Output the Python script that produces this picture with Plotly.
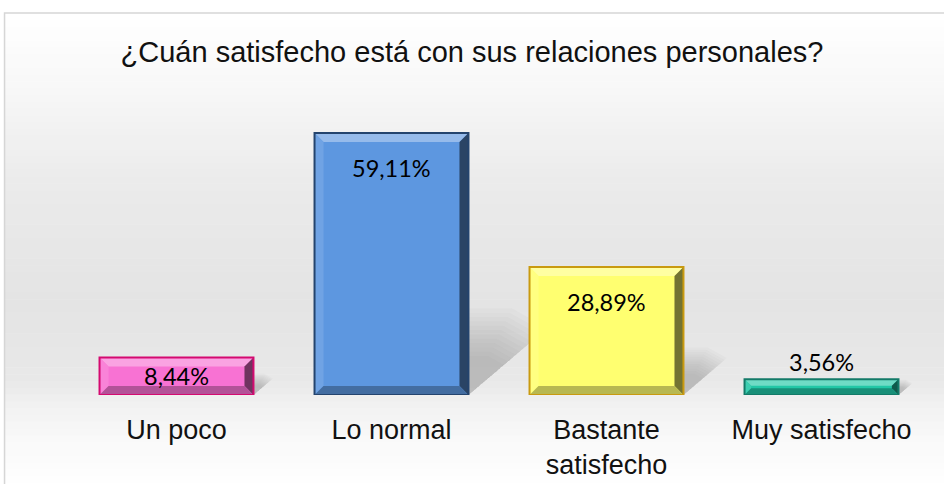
import plotly.graph_objects as go

categories = ["Un poco", "Lo normal", "Bastante<br>satisfecho", "Muy satisfecho"]
values = [8.44, 59.11, 28.89, 3.56]
labels = ["8,44%", "59,11%", "28,89%", "3,56%"]
title = "¿Cuán satisfecho está con sus relaciones personales?"

fill_colors = ["#f872d3", "#5d97e0", "#ffff70", "#22c7a6"]
edge_colors = ["#d40a70", "#24446e", "#c99a10", "#137a68"]

W, H = 944, 484
ml, mr, mt, mb = 68.5, W - 929, 129, 484 - 395
BAR_W = 0.716
YMAX = 60

def hex2rgb(h):
    h = h.lstrip("#")
    return tuple(int(h[i:i + 2], 16) for i in (0, 2, 4))

def mix(h, other, t):
    r = hex2rgb(h)
    return "rgb(%d,%d,%d)" % tuple(round(a + (b - a) * t) for a, b in zip(r, other))

plot_w = W - ml - mr
plot_h = H - mt - mb
px_per_cat = plot_w / len(categories)
px_per_unit = plot_h / YMAX

def px_to_paper_y(py):
    return (H - mb - py) / plot_h
def px_to_paper_x(px):
    return (px - ml) / plot_w

fig = go.Figure()

# background gradient bands (chart area)
stops = [(13, 255), (90, 247), (180, 235), (300, 228), (380, 232), (400, 240), (440, 249), (484, 254)]
def shade(py):
    for (y0, c0), (y1, c1) in zip(stops, stops[1:]):
        if y0 <= py <= y1:
            return c0 + (c1 - c0) * (py - y0) / (y1 - y0)
    return 255
n = 70
top_px, bot_px = 13, 490
for k in range(n):
    y0 = top_px + (bot_px - top_px) * k / n
    y1 = top_px + (bot_px - top_px) * (k + 1) / n
    g = int(round(shade((y0 + y1) / 2)))
    fig.add_shape(type="rect", xref="paper", yref="paper", layer="below",
                  x0=px_to_paper_x(4), x1=px_to_paper_x(950),
                  y0=px_to_paper_y(y1 + 0.5), y1=px_to_paper_y(y0),
                  fillcolor=f"rgb({g},{g},{g})", line=dict(width=0))
fig.add_shape(type="rect", xref="paper", yref="paper", layer="below",
              x0=px_to_paper_x(4), x1=px_to_paper_x(960),
              y0=px_to_paper_y(495), y1=px_to_paper_y(13),
              fillcolor="rgba(0,0,0,0)", line=dict(color="#d6d6d6", width=1.5))

# soft cast shadows behind bars
for i, v in enumerate(values):
    xr = i + BAR_W / 2
    h_px = v * px_per_unit
    s_px = 0.22 * h_px + 8
    for k in range(12):
        scale = 1.2 - k * 0.06
        s = s_px * scale
        sx = s / px_per_cat
        sy = s / px_per_unit
        path = (f"M {xr},0 L {xr + sx},{sy * 0.85} L {xr + sx * 0.55},{sy * 1.1} "
                f"L {xr},{sy * 1.1} Z")
        fig.add_shape(type="path", xref="x", yref="y", path=path,
                      fillcolor="rgba(110,110,110,0.035)", line=dict(width=0), layer="below")

fig.add_trace(go.Bar(
    x=categories, y=values,
    marker=dict(color=fill_colors, line=dict(width=0)),
    width=BAR_W, hoverinfo="skip",
))

# bevel effect for each bar
bevel_px = 9
for i, (v, fc, ec) in enumerate(zip(values, fill_colors, edge_colors)):
    xl, xr = i - BAR_W / 2, i + BAR_W / 2
    dx = bevel_px / px_per_cat
    dy = min(bevel_px / px_per_unit, v * 0.42)
    dxe = min(dx, dy * px_per_unit / px_per_cat)
    ixl, ixr, iyb, iyt = xl + dxe, xr - dxe, dy, v - dy
    faces = [
        (f"M {xl},{v} L {xr},{v} L {ixr},{iyt} L {ixl},{iyt} Z", mix(fc, (255, 255, 255), 0.35)),
        (f"M {xl},0 L {xl},{v} L {ixl},{iyt} L {ixl},{iyb} Z", mix(fc, (255, 255, 255), 0.12)),
        (f"M {xr},0 L {xr},{v} L {ixr},{iyt} L {ixr},{iyb} Z", mix(fc, (0, 0, 0), 0.55)),
        (f"M {xl},0 L {xr},0 L {ixr},{iyb} L {ixl},{iyb} Z", mix(fc, (0, 0, 0), 0.28)),
    ]
    for path, col in faces:
        fig.add_shape(type="path", xref="x", yref="y", path=path, fillcolor=col,
                      line=dict(width=0), layer="above")
    fig.add_shape(type="rect", xref="x", yref="y", x0=xl, x1=xr, y0=0, y1=v,
                  fillcolor="rgba(0,0,0,0)", line=dict(color=ec, width=2), layer="above")

# value labels
for c, v, t in zip(categories, values, labels):
    f = dict(family="Lato", size=23.5, color="#000")
    if v > 20:
        fig.add_annotation(x=c, y=v, text=t, showarrow=False, yanchor="top", yshift=-19, font=f)
    elif v > 6:
        fig.add_annotation(x=c, y=v / 2, text=t, showarrow=False, yanchor="middle", font=f)
    else:
        fig.add_annotation(x=c, y=v, text=t, showarrow=False, yanchor="bottom", yshift=1, font=f)

fig.update_layout(
    width=W, height=H,
    margin=dict(l=ml, r=mr, t=mt, b=mb, autoexpand=False),
    paper_bgcolor="white", plot_bgcolor="rgba(0,0,0,0)",
    title=dict(text=title, x=0.5, xanchor="center", y=1 - 52 / H, yanchor="middle",
               yref="container", automargin=False,
               font=dict(family="Liberation Sans", size=29, color="#111")),
    showlegend=False,
    xaxis=dict(showline=False, showgrid=False, zeroline=False, ticks="", automargin=False,
               ticklabelstandoff=16, range=[-0.5, 3.5],
               tickfont=dict(family="Liberation Sans", size=27, color="#111")),
    yaxis=dict(range=[0, YMAX], visible=False, showgrid=False, zeroline=False, automargin=False),
)

fig.write_html("out.html", config={"displayModeBar": False},
               post_script="document.body.style.margin='0';")
